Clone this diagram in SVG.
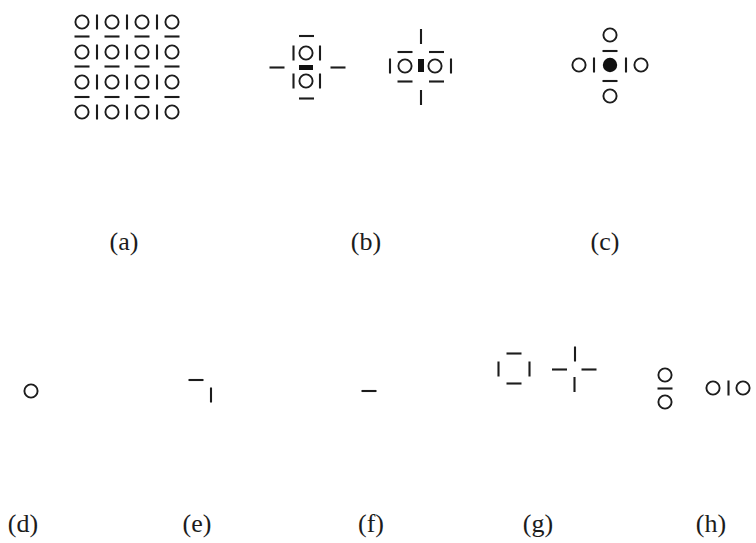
<svg xmlns="http://www.w3.org/2000/svg" xmlns:xlink="http://www.w3.org/1999/xlink" width="756" height="543" viewBox="0 0 756 543">
<style>
.o{fill:none;stroke:#1c1c1c;stroke-width:1.9}
.b{stroke:#1c1c1c;stroke-width:2.1;stroke-linecap:butt}
.lbl{font-family:"Liberation Serif","DejaVu Serif",serif;font-size:26px;fill:#1c1c1c;text-anchor:middle}
</style>
<defs>
<circle id="o" class="o" cx="0" cy="0" r="6.6"/>
<line id="h" class="b" x1="-7.5" y1="0" x2="7.5" y2="0"/>
<line id="v" class="b" x1="0" y1="-7.5" x2="0" y2="7.5"/>
</defs>
<rect width="756" height="543" fill="#fff"/>

<g id="panel-a">
<g id="a-circles">
<use xlink:href="#o" x="82" y="22"/><use xlink:href="#o" x="112" y="22"/><use xlink:href="#o" x="142" y="22"/><use xlink:href="#o" x="172" y="22"/>
<use xlink:href="#o" x="82" y="52"/><use xlink:href="#o" x="112" y="52"/><use xlink:href="#o" x="142" y="52"/><use xlink:href="#o" x="172" y="52"/>
<use xlink:href="#o" x="82" y="82"/><use xlink:href="#o" x="112" y="82"/><use xlink:href="#o" x="142" y="82"/><use xlink:href="#o" x="172" y="82"/>
<use xlink:href="#o" x="82" y="112"/><use xlink:href="#o" x="112" y="112"/><use xlink:href="#o" x="142" y="112"/><use xlink:href="#o" x="172" y="112"/>
</g>
<g id="a-vbars">
<use xlink:href="#v" x="97" y="22"/><use xlink:href="#v" x="127" y="22"/><use xlink:href="#v" x="157" y="22"/>
<use xlink:href="#v" x="97" y="52"/><use xlink:href="#v" x="127" y="52"/><use xlink:href="#v" x="157" y="52"/>
<use xlink:href="#v" x="97" y="82"/><use xlink:href="#v" x="127" y="82"/><use xlink:href="#v" x="157" y="82"/>
<use xlink:href="#v" x="97" y="112"/><use xlink:href="#v" x="127" y="112"/><use xlink:href="#v" x="157" y="112"/>
</g>
<g id="a-hbars">
<use xlink:href="#h" x="82" y="36.5"/><use xlink:href="#h" x="112" y="36.5"/><use xlink:href="#h" x="142" y="36.5"/><use xlink:href="#h" x="172" y="36.5"/>
<use xlink:href="#h" x="82" y="66.5"/><use xlink:href="#h" x="112" y="66.5"/><use xlink:href="#h" x="142" y="66.5"/><use xlink:href="#h" x="172" y="66.5"/>
<use xlink:href="#h" x="82" y="97"/><use xlink:href="#h" x="112" y="97"/><use xlink:href="#h" x="142" y="97"/><use xlink:href="#h" x="172" y="97"/>
</g>
<text class="lbl" x="124" y="250">(a)</text>
</g>

<g id="panel-b">
<g id="b-left">
<rect x="299" y="65" width="14" height="5" fill="#111"/>
<use xlink:href="#o" x="306" y="53"/><use xlink:href="#o" x="306" y="81"/>
<use xlink:href="#v" x="293.5" y="53"/><use xlink:href="#v" x="320" y="53"/>
<use xlink:href="#v" x="293.5" y="81"/><use xlink:href="#v" x="320" y="81"/>
<use xlink:href="#h" x="306.5" y="36"/><use xlink:href="#h" x="306.5" y="98.5"/>
<use xlink:href="#h" x="277" y="67.5"/><use xlink:href="#h" x="338" y="67.5"/>
</g>
<g id="b-right">
<rect x="418" y="59" width="6" height="13" fill="#111"/>
<use xlink:href="#o" x="405" y="66"/><use xlink:href="#o" x="435" y="66"/>
<use xlink:href="#v" x="390" y="66"/><use xlink:href="#v" x="451" y="66"/>
<use xlink:href="#h" x="405" y="52"/><use xlink:href="#h" x="436.5" y="52"/>
<use xlink:href="#h" x="405" y="81.5"/><use xlink:href="#h" x="436.5" y="81.5"/>
<use xlink:href="#v" x="421" y="36.5"/><use xlink:href="#v" x="421" y="97.5"/>
</g>
<text class="lbl" x="366" y="250">(b)</text>
</g>

<g id="panel-c">
<circle cx="610" cy="65" r="7.2" fill="#111"/>
<use xlink:href="#o" x="610" y="35"/><use xlink:href="#o" x="610" y="96"/>
<use xlink:href="#o" x="579" y="65"/><use xlink:href="#o" x="641" y="65"/>
<use xlink:href="#v" x="594" y="65"/><use xlink:href="#v" x="626" y="65"/>
<use xlink:href="#h" x="610" y="51"/><use xlink:href="#h" x="610" y="81"/>
<text class="lbl" x="605" y="250">(c)</text>
</g>

<g id="panel-d">
<use xlink:href="#o" x="31" y="391"/>
<text class="lbl" x="23" y="532">(d)</text>
</g>

<g id="panel-e">
<use xlink:href="#h" x="196" y="380"/>
<use xlink:href="#v" x="211" y="395"/>
<text class="lbl" x="197" y="532">(e)</text>
</g>

<g id="panel-f">
<use xlink:href="#h" x="369" y="391"/>
<text class="lbl" x="371" y="532">(f)</text>
</g>

<g id="panel-g">
<g id="g-square">
<use xlink:href="#h" x="514" y="353.5"/><use xlink:href="#h" x="514" y="383.5"/>
<use xlink:href="#v" x="498.5" y="369"/><use xlink:href="#v" x="529.5" y="369"/>
</g>
<g id="g-cross">
<use xlink:href="#v" x="575" y="354"/><use xlink:href="#v" x="574.5" y="384.5"/>
<use xlink:href="#h" x="559.5" y="369.5"/><use xlink:href="#h" x="589" y="369.5"/>
</g>
<text class="lbl" x="538" y="532">(g)</text>
</g>

<g id="panel-h">
<g id="h-vertical">
<use xlink:href="#o" x="665" y="375"/><use xlink:href="#h" x="665" y="388.5"/><use xlink:href="#o" x="665" y="402"/>
</g>
<g id="h-horizontal">
<use xlink:href="#o" x="713" y="388"/><use xlink:href="#v" x="728.5" y="388"/><use xlink:href="#o" x="743" y="388"/>
</g>
<text class="lbl" x="711" y="532">(h)</text>
</g>
</svg>
